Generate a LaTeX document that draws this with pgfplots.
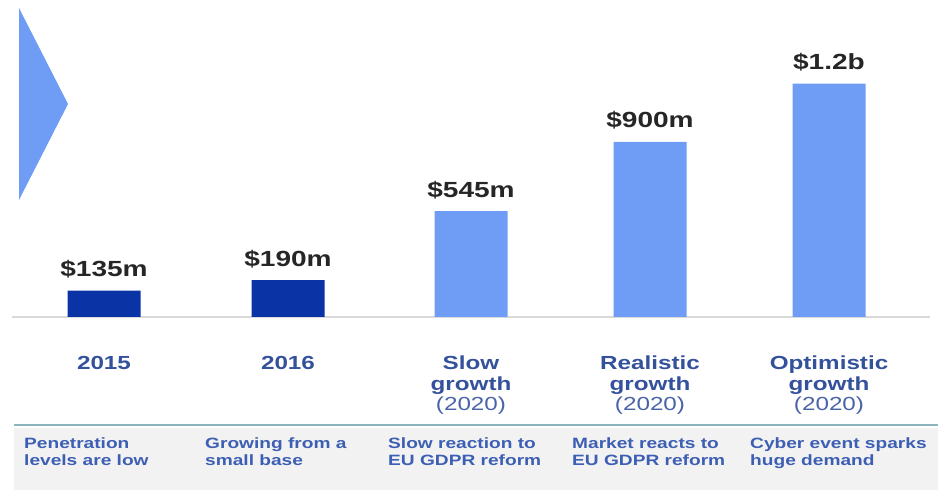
\documentclass[border=0pt]{standalone}
\usepackage{pgfplots}
\pgfplotsset{compat=1.18}
\usepackage{fontspec}
\setmainfont{Liberation Sans}[FakeStretch=1.28]

\definecolor{darkbar}{HTML}{0A33A6}
\definecolor{lightbar}{HTML}{6F9DF5}
\definecolor{valtext}{HTML}{262626}
\definecolor{cattext}{HTML}{34519C}
\definecolor{yeartext}{HTML}{4A64A8}
\definecolor{desctext}{HTML}{3D5FB3}
\definecolor{bandline}{HTML}{8DB4BE}

\begin{document}
\begin{tikzpicture}
\useasboundingbox (0bp,0bp) rectangle (938bp,490bp);
% grey band with the notes
\fill[black!5] (14bp,0bp) rectangle (938bp,62bp);
\draw[bandline, line width=2bp] (14bp,65bp) -- (938bp,65bp);
% arrow head on the left
\fill[lightbar] (19bp,482bp) -- (68bp,386bp) -- (19bp,290bp) -- cycle;

\begin{axis}[
    at={(0bp,173bp)}, anchor=south west,
    width=938bp, height=317bp, scale only axis,
    xmin=0, xmax=938, ymin=0, ymax=1630,
    axis line style={draw=none},
    ytick=\empty,
    major tick length=0pt,
    xtick={104,288,471,650,829},
    xticklabels={
        {\textbf{2015}},
        {\textbf{2016}},
        {\textbf{Slow}\\\textbf{growth}\\{\color{yeartext}(2020)}},
        {\textbf{Realistic}\\\textbf{growth}\\{\color{yeartext}(2020)}},
        {\textbf{Optimistic}\\\textbf{growth}\\{\color{yeartext}(2020)}}},
    xticklabel style={align=center, anchor=north, inner sep=0pt, yshift=-39bp,
        text=cattext, font=\fontsize{19}{20.5}\selectfont},
    ybar, bar width=73bp,
    point meta=explicit symbolic,
    nodes near coords,
    nodes near coords style={anchor=base, yshift=14bp, inner sep=0pt,
        text=valtext, font=\fontsize{22}{24}\selectfont\bfseries},
    clip=false,
    ]
    \draw[black!15, line width=1.5bp] (axis cs:12,0) -- (axis cs:930,0);
    \addplot[fill=darkbar, draw=none, bar shift=0pt] coordinates {(104,135) [\$135m] (288,190) [\$190m]};
    \addplot[fill=lightbar, draw=none, bar shift=0pt] coordinates {(471,545) [\$545m] (650,900) [\$900m] (829,1200) [\$1.2b]};
\end{axis}

\begin{scope}[every node/.style={anchor=north west, align=left, inner sep=0pt,
        text=desctext, font=\fontsize{15}{17.5}\selectfont\bfseries}]
\node at (24bp,53bp) {Penetration\\levels are low};
\node at (205bp,53bp) {Growing from a\\small base};
\node at (388bp,53bp) {Slow reaction to\\EU GDPR reform};
\node at (572bp,53bp) {Market reacts to\\EU GDPR reform};
\node at (750bp,53bp) {Cyber event sparks\\huge demand};
\end{scope}
\end{tikzpicture}
\end{document}
